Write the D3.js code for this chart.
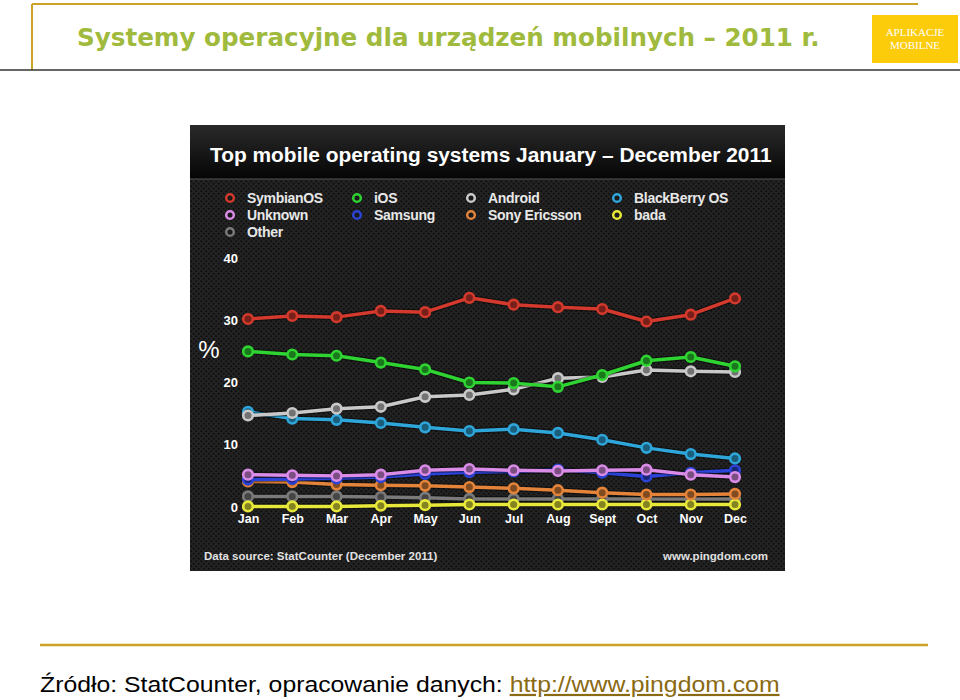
<!DOCTYPE html>
<html>
<head>
<meta charset="utf-8">
<script src="https://cdn.jsdelivr.net/npm/d3@7"></script>
<style>
body{margin:0;background:#fff;}
svg{display:block;}
</style>
</head>
<body>
<svg id="canvas" width="960" height="700"></svg>
<script>
// data
let months=["Jan","Feb","Mar","Apr","May","Jun","Jul","Aug","Sept","Oct","Nov","Dec"]
let yticks=[0,10,20,30,40]
let names=["SymbianOS","iOS","Android","BlackBerry OS","Unknown","Samsung","Sony Ericsson","bada","Other"]
let colors=["#d3392c","#2fd332","#c9c9c9","#2ea6da","#db8ce8","#2b43d6","#e4843a","#e8e83a","#7a7a7a"]
let symbian=[30.2,30.7,30.5,31.5,31.3,33.6,32.5,32.1,31.8,29.8,30.9,33.5]
let ios=[25.0,24.5,24.3,23.2,22.1,20.0,19.9,19.3,21.2,23.5,24.1,22.6]
let android=[14.7,15.1,15.8,16.1,17.7,18.0,18.9,20.7,20.9,22.0,21.8,21.7]
let blackberry=[15.3,14.2,14.0,13.5,12.8,12.2,12.5,11.9,10.8,9.5,8.5,7.8]
let unknown=[5.2,5.1,5.0,5.2,5.9,6.1,5.9,5.8,5.9,6.0,5.2,4.8]
let samsung=[4.4,4.5,4.6,4.8,5.3,5.6,5.7,6.0,5.5,4.9,5.5,5.9]
let sony=[4.1,4.0,3.6,3.5,3.4,3.2,3.0,2.7,2.3,2.0,2.0,2.1]
let bada=[0.1,0.1,0.1,0.2,0.3,0.4,0.4,0.4,0.4,0.4,0.4,0.4]
let other=[1.7,1.7,1.7,1.6,1.5,1.3,1.3,1.3,1.3,1.3,1.3,1.3]
let values=[symbian,ios,android,blackberry,unknown,samsung,sony,bada,other]
// drawing order (back to front)
let order=[8,7,6,5,4,3,2,1,0]

let svg=d3.select("#canvas")

// stretch a text horizontally to a target width (slide text is stretched)
let fitWidth=(sel,x0,y0,w)=>{
    let len=sel.node().getComputedTextLength()
    sel.attr("x",0).attr("y",0).attr("transform",`translate(${x0},${y0}) scale(${w/len},1)`)
}

// slide frame
svg.append("line").attr("x1",32).attr("x2",918).attr("y1",4).attr("y2",4).attr("stroke","#c9a227").attr("stroke-width",2)
svg.append("line").attr("x1",32).attr("x2",32).attr("y1",4).attr("y2",70).attr("stroke","#c9a227").attr("stroke-width",2)
svg.append("line").attr("x1",0).attr("x2",960).attr("y1",70).attr("y2",70).attr("stroke","#333").attr("stroke-width",1.5)
let title=svg.append("text")
   .attr("font-family","DejaVu Sans").attr("font-weight","bold").attr("font-size",24)
   .attr("fill","#9fba3c").text("Systemy operacyjne dla urządzeń mobilnych – 2011 r.")
fitWidth(title,77,46,743)
svg.append("rect").attr("x",872).attr("y",15).attr("width",86).attr("height",48).attr("fill","#fccb0a")
svg.append("text").attr("x",915).attr("y",36).attr("text-anchor","middle")
   .attr("font-family","Liberation Serif").attr("font-size",11).attr("fill","#fff").text("APLIKACJE")
svg.append("text").attr("x",915).attr("y",49).attr("text-anchor","middle")
   .attr("font-family","Liberation Serif").attr("font-size",11).attr("fill","#fff").text("MOBILNE")

// bottom
svg.append("line").attr("x1",40).attr("x2",928).attr("y1",645).attr("y2",645).attr("stroke","#c9a227").attr("stroke-width",2.5)
let foot=svg.append("text").attr("font-family","Liberation Sans").attr("font-size",22).attr("fill","#000")
foot.append("tspan").text("Źródło: StatCounter, opracowanie danych: ")
foot.append("tspan").attr("fill","#8a6a12").attr("text-decoration","underline").text("http://www.pingdom.com")
fitWidth(foot,40,692,740)

// chart picture
let cx=190,cy=125,cw=595,ch=446
let defs=svg.append("defs")
let pat=defs.append("pattern").attr("id","mesh").attr("width",5).attr("height",5).attr("patternUnits","userSpaceOnUse")
pat.append("rect").attr("width",5).attr("height",5).attr("fill","#232323")
pat.append("circle").attr("cx",1.25).attr("cy",1.25).attr("r",1.1).attr("fill","#0e0e0e")
pat.append("circle").attr("cx",3.75).attr("cy",3.75).attr("r",1.1).attr("fill","#0e0e0e")
let grad=defs.append("linearGradient").attr("id","band").attr("x1",0).attr("x2",0).attr("y1",0).attr("y2",1)
grad.append("stop").attr("offset","0%").attr("stop-color","#2a2a2a")
grad.append("stop").attr("offset","100%").attr("stop-color","#050505")

svg.append("rect").attr("x",cx).attr("y",cy).attr("width",cw).attr("height",ch).attr("fill","url(#mesh)")
svg.append("rect").attr("x",cx).attr("y",cy).attr("width",cw).attr("height",54).attr("fill","url(#band)")
svg.append("line").attr("x1",cx).attr("x2",cx+cw).attr("y1",179).attr("y2",179).attr("stroke","#555").attr("stroke-width",1)
let ctitle=svg.append("text")
   .attr("font-family","Liberation Sans").attr("font-weight","bold").attr("font-size",21).attr("fill","#fff")
   .text("Top mobile operating systems January – December 2011")
fitWidth(ctitle,210,162,562)

// legend
let legendPos=[[230,198],[357,198],[471,198],[617,198],[230,215],[357,215],[471,215],[617,215],[230,232]]
let legend=svg.append("g")
let items=legend.selectAll("g").data(names).enter().append("g")
   .attr("transform",(d,i)=>`translate(${legendPos[i][0]},${legendPos[i][1]})`)
items.append("circle").attr("r",3.8).attr("fill","#1a1a1a").attr("stroke",(d,i)=>colors[i]).attr("stroke-width",2.5)
items.append("text").attr("x",17).attr("y",5).attr("font-family","Liberation Sans").attr("font-weight","bold")
   .attr("font-size",14).attr("letter-spacing",-0.3).attr("fill","#e8e8e8").text(d=>d)

// scales
let x=d3.scalePoint().domain(months).range([248,735])
let y=d3.scaleLinear().domain([0,40]).range([507,258])

let yAxis=svg.append("g").attr("transform","translate(238,0)")
   .call(d3.axisLeft(y).tickValues(yticks).tickSize(0).tickPadding(0))
yAxis.select(".domain").remove()
yAxis.selectAll("text").attr("font-family","Liberation Sans").attr("font-weight","bold")
   .attr("font-size",13).attr("fill","#fff")
let xAxis=svg.append("g").attr("transform","translate(0,514)")
   .call(d3.axisBottom(x).tickSize(0).tickPadding(0))
xAxis.select(".domain").remove()
xAxis.selectAll("text").attr("font-family","Liberation Sans").attr("font-weight","bold")
   .attr("font-size",12.5).attr("fill","#fff")
svg.append("text").attr("x",209).attr("y",358).attr("text-anchor","middle")
   .attr("font-family","Liberation Sans").attr("font-size",24).attr("fill","#fff").text("%")

// lines
let line=d3.line().x((d,i)=>x(months[i])).y(d=>y(d))
let plot=svg.append("g")
order.forEach(k=>{
    let g=plot.append("g")
    g.append("path").attr("d",line(values[k])).attr("fill","none")
     .attr("stroke","#000").attr("stroke-opacity",0.4).attr("stroke-width",6)
    g.append("path").attr("d",line(values[k])).attr("fill","none")
     .attr("stroke",colors[k]).attr("stroke-width",3.5).attr("stroke-linejoin","round")
    g.selectAll("circle").data(values[k]).enter().append("circle")
     .attr("cx",(d,i)=>x(months[i])).attr("cy",d=>y(d)).attr("r",4.8)
     .attr("fill",d3.color(colors[k]).darker(1.6)).attr("stroke",colors[k]).attr("stroke-width",2.6)
})

// chart footer
svg.append("text").attr("x",204).attr("y",560).attr("font-family","Liberation Sans").attr("font-weight","bold")
   .attr("font-size",11.5).attr("fill","#e0e0e0").text("Data source: StatCounter (December 2011)")
svg.append("text").attr("x",768).attr("y",560).attr("text-anchor","end").attr("font-family","Liberation Sans").attr("font-weight","bold")
   .attr("font-size",11.5).attr("fill","#e0e0e0").text("www.pingdom.com")
</script>
</body>
</html>
